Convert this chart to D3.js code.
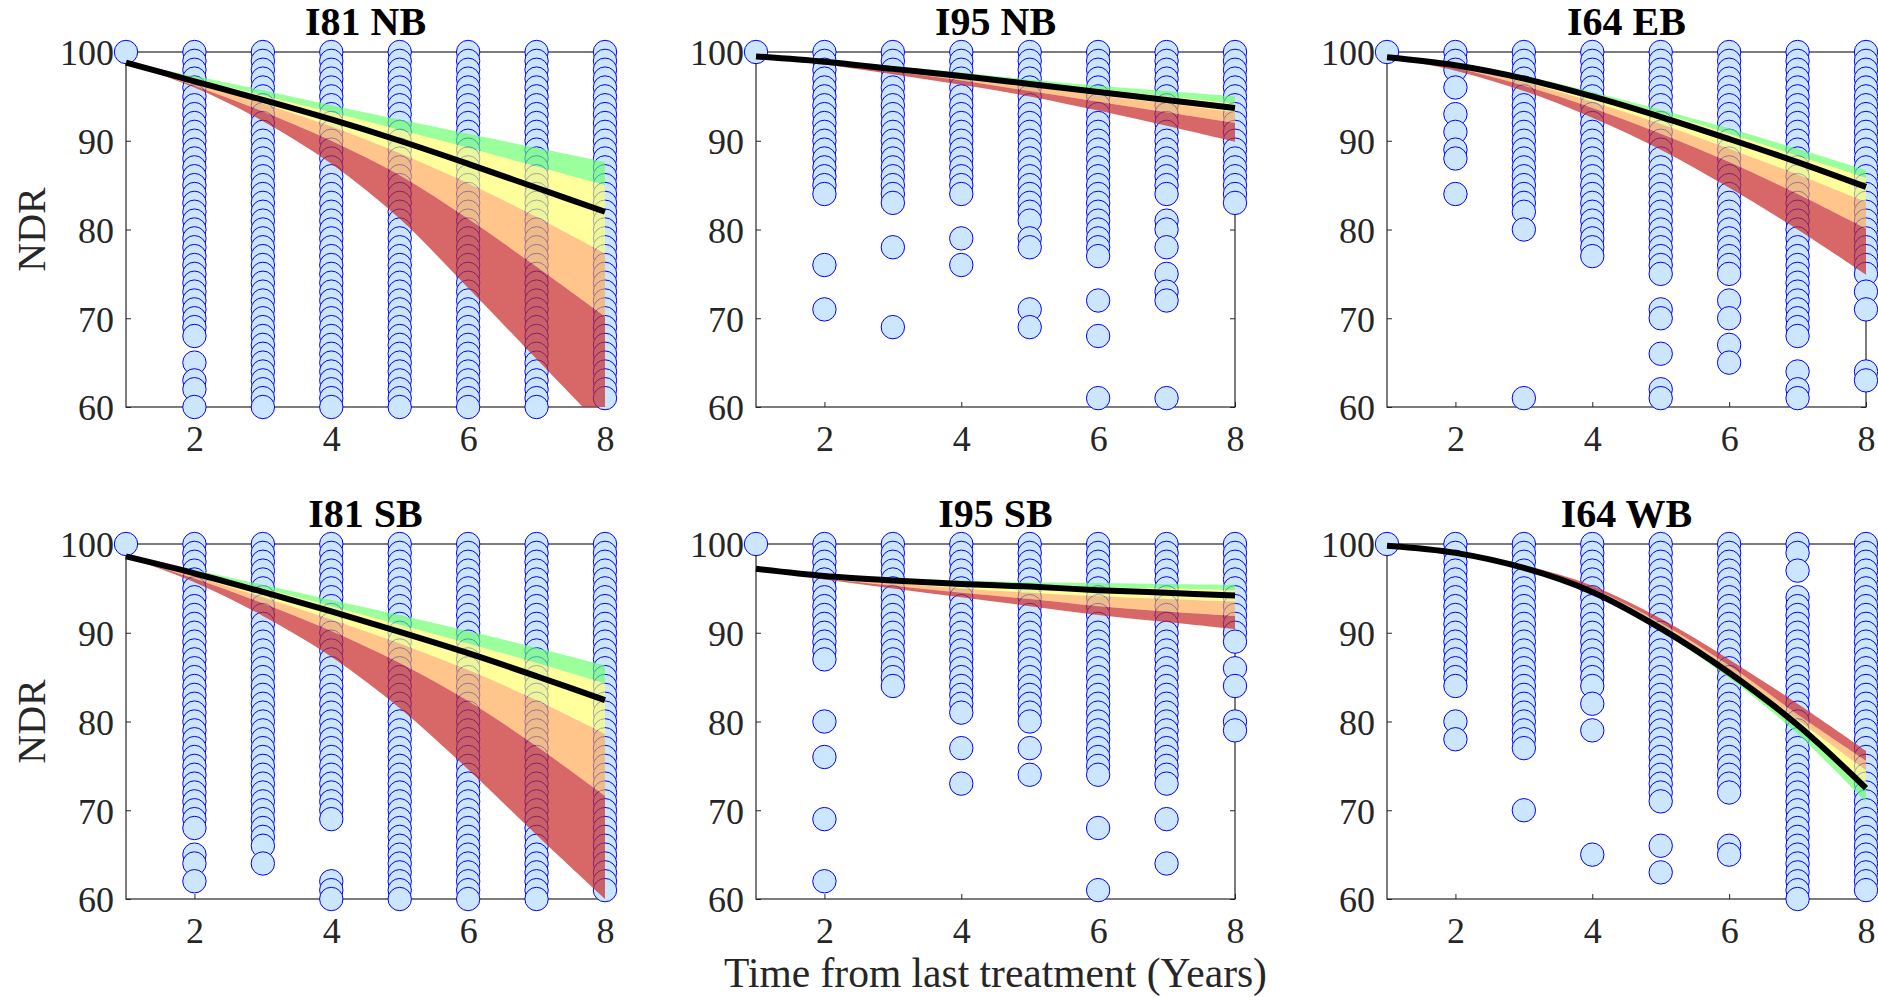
<!DOCTYPE html>
<html>
<head>
<meta charset="utf-8">
<script src="https://cdn.jsdelivr.net/npm/d3@7"></script>
<style>
  body { margin: 0; background: #fff; }
  svg { display: block; font-family: "Liberation Serif", "Times New Roman", serif; }
  .axis text { font-family: "Liberation Serif", "Times New Roman", serif; font-size: 36px; fill: #262626; }
  .axis line { stroke: #262626; }
</style>
</head>
<body>
<div id="chart"></div>
<script>
// ---- data ----
var years = [1, 2, 3, 4, 5, 6, 7, 8];
var routes = ["I81 NB", "I95 NB", "I64 EB", "I81 SB", "I95 SB", "I64 WB"];
var xTicks = [2, 4, 6, 8];
var yTicks = [60, 70, 80, 90, 100];

// observed NDR per year (one list per year)
var ndrI81NB = [
  [100],
  [100,99,98,97,96,95,94,93,92,91,90,89,88,87,86,85,84,83,82,81,80,79,78,77,76,75,74,73,72,71,70,69,68,65,63,62,60],
  [100,99,98,97,96,95,94,93,92,91,90,89,88,87,86,85,84,83,82,81,80,79,78,77,76,75,74,73,72,71,70,69,68,67,66,65,64,63,62,61,60],
  [100,99,98,97,96,95,94,93,92,91,90,89,88,87,86,85,84,83,82,81,80,79,78,77,76,75,74,73,72,71,70,69,68,67,66,65,64,63,62,61,60],
  [100,99,98,97,96,95,94,93,92,91,90,89,88,87,86,85,84,83,82,81,80,79,78,77,76,75,74,73,72,71,70,69,68,67,66,65,64,63,62,61,60],
  [100,99,98,97,96,95,94,93,92,91,90,89,88,87,86,85,84,83,82,81,80,79,78,77,76,75,74,73,72,71,70,69,68,67,66,65,64,63,62,61,60],
  [100,99,98,97,96,95,94,93,92,91,90,89,88,87,86,85,84,83,82,81,80,79,78,77,76,75,74,73,72,71,70,69,68,67,66,65,64,63,62,61,60],
  [100,99,98,97,96,95,94,93,92,91,90,89,88,87,86,85,84,83,82,81,80,79,78,77,76,75,74,73,72,71,70,69,68,67,66,65,64,63,62,61]
];
var ndrI95NB = [
  [100],
  [100,99,98,97,96,95,94,93,92,91,90,89,88,87,86,85,84,76,71],
  [100,99,98,97,96,95,94,93,92,91,90,89,88,87,86,85,84,83,78,69],
  [100,99,98,97,96,95,94,93,92,91,90,89,88,87,86,85,84,79,76],
  [100,99,98,97,96,95,94,93,92,91,90,89,88,87,86,85,84,83,82,81,79,78,71,69],
  [100,99,98,97,96,95,94,93,92,91,90,89,88,87,86,85,84,83,82,81,80,79,78,77,72,68,61],
  [100,99,98,97,96,95,94,93,92,91,90,89,88,87,86,85,84,81,80,78,75,73,72,61],
  [100,99,98,97,96,95,94,93,92,91,90,89,88,87,86,85,84,83]
];
var ndrI64EB = [
  [100],
  [100,99,98,96,93,91,89,88,84],
  [100,99,98,97,96,95,94,93,92,91,90,89,88,87,86,85,84,83,82,80,61],
  [100,99,98,97,96,95,94,93,92,91,90,89,88,87,86,85,84,83,82,81,80,79,78,77],
  [100,99,98,97,96,95,94,93,92,91,90,89,88,87,86,85,84,83,82,81,80,79,78,77,76,75,71,70,66,62,61],
  [100,99,98,97,96,95,94,93,92,91,90,89,88,87,86,85,84,83,82,81,80,79,78,77,76,75,72,70,67,65],
  [100,99,98,97,96,95,94,93,92,91,90,89,88,87,86,85,84,83,82,81,80,79,78,77,76,75,74,73,72,71,70,69,68,64,62,61],
  [100,99,98,97,96,95,94,93,92,91,90,89,88,87,86,85,84,83,82,81,80,79,78,77,76,75,73,71,64,63]
];
var ndrI81SB = [
  [100],
  [100,99,98,97,96,95,94,93,92,91,90,89,88,87,86,85,84,83,82,81,80,79,78,77,76,75,74,73,72,71,70,69,68,65,64,62],
  [100,99,98,97,96,95,94,93,92,91,90,89,88,87,86,85,84,83,82,81,80,79,78,77,76,75,74,73,72,71,70,69,68,67,66,64],
  [100,99,98,97,96,95,94,93,92,91,90,89,88,87,86,85,84,83,82,81,80,79,78,77,76,75,74,73,72,71,70,69,62,61,60],
  [100,99,98,97,96,95,94,93,92,91,90,89,88,87,86,85,84,83,82,81,80,79,78,77,76,75,74,73,72,71,70,69,68,67,66,65,64,63,62,61,60],
  [100,99,98,97,96,95,94,93,92,91,90,89,88,87,86,85,84,83,82,81,80,79,78,77,76,75,74,73,72,71,70,69,68,67,66,65,64,63,62,61,60],
  [100,99,98,97,96,95,94,93,92,91,90,89,88,87,86,85,84,83,82,81,80,79,78,77,76,75,74,73,72,71,70,69,68,67,66,65,64,63,62,61,60],
  [100,99,98,97,96,95,94,93,92,91,90,89,88,87,86,85,84,83,82,81,80,79,78,77,76,75,74,73,72,71,70,69,68,67,66,65,64,63,62,61]
];
var ndrI95SB = [
  [100],
  [100,99,98,97,96,95,94,93,92,91,90,89,88,87,80,76,69,62],
  [100,99,98,97,96,95,94,93,92,91,90,89,88,87,86,85,84],
  [100,99,98,97,96,95,94,93,92,91,90,89,88,87,86,85,84,83,82,81,77,73],
  [100,99,98,97,96,95,94,93,92,91,90,89,88,87,86,85,84,83,82,81,80,77,74],
  [100,99,98,97,96,95,94,93,92,91,90,89,88,87,86,85,84,83,82,81,80,79,78,77,76,75,74,68,61],
  [100,99,98,97,96,95,94,93,92,91,90,89,88,87,86,85,84,83,82,81,80,79,78,77,76,75,74,73,69,64],
  [100,99,98,97,96,95,94,93,92,91,90,89,86,84,80,79]
];
var ndrI64WB = [
  [100],
  [100,99,98,97,96,95,94,93,92,91,90,89,88,87,86,85,84,80,78],
  [100,99,98,97,96,95,94,93,92,91,90,89,88,87,86,85,84,83,82,81,80,79,78,77,70],
  [100,99,98,97,96,95,94,93,92,91,90,89,88,87,86,85,84,82,79,65],
  [100,99,98,97,96,95,94,93,92,91,90,89,88,87,86,85,84,83,82,81,80,79,78,77,76,75,74,73,72,71,66,63],
  [100,99,98,97,96,95,94,93,92,91,90,89,88,87,86,85,84,83,82,81,80,79,78,77,76,75,74,73,72,66,65],
  [100,99,97,94,93,92,91,90,89,88,87,86,85,84,83,82,81,80,79,78,77,76,75,74,73,72,71,70,69,68,67,66,65,64,63,62,61,60],
  [100,99,98,97,96,95,94,93,92,91,90,89,88,87,86,85,84,83,82,81,80,79,78,77,76,75,74,73,72,71,70,69,68,67,66,65,64,63,62,61]
];

// fitted deterioration curve, one value per year
var fitI81NB = [98.8, 96.7, 94.6, 92.4, 90.0, 87.4, 84.7, 82.0];
var fitI95NB = [99.5, 98.9, 98.1, 97.3, 96.4, 95.5, 94.6, 93.7];
var fitI64EB = [99.4, 98.5, 97.0, 95.0, 92.7, 90.2, 87.6, 84.8];
var fitI81SB = [98.6, 96.7, 94.6, 92.4, 90.1, 87.7, 85.1, 82.4];
var fitI95SB = [97.2, 96.4, 95.9, 95.5, 95.2, 94.8, 94.5, 94.2];
var fitI64WB = [99.8, 99.0, 97.3, 94.6, 90.5, 85.5, 79.6, 72.5];

// band edges: green outer, green/yellow, yellow/orange, orange/red, red outer
var bandI81NB = [
  [98.8, 97.3, 95.7, 94.0, 92.4, 90.8, 89.2, 87.6],
  [98.8, 97.0, 95.1, 93.2, 91.2, 89.2, 87.1, 85.0],
  [98.8, 96.6, 94.2, 91.6, 88.6, 85.2, 81.4, 77.3],
  [98.8, 96.2, 93.3, 90.0, 86.1, 81.2, 75.8, 70.2],
  [98.8, 96.0, 92.2, 87.4, 81.2, 73.4, 65.4, 57.4]
];
var bandI95NB = [
  [99.5, 99.1, 98.4, 97.7, 96.9, 96.2, 95.6, 95.0],
  [99.5, 99.0, 98.2, 97.5, 96.6, 95.8, 95.0, 94.2],
  [99.5, 98.9, 98.0, 97.1, 96.1, 95.1, 94.2, 93.2],
  [99.5, 98.8, 97.8, 96.8, 95.6, 94.4, 93.2, 92.0],
  [99.5, 98.6, 97.5, 96.3, 95.0, 93.4, 91.7, 89.9]
];
var bandI64EB = [
  [99.4, 98.6, 97.3, 95.5, 93.5, 91.4, 89.1, 86.7],
  [99.4, 98.55, 97.15, 95.25, 93.1, 90.8, 88.3, 85.8],
  [99.4, 98.3, 96.6, 94.4, 91.9, 89.1, 86.2, 83.1],
  [99.4, 98.2, 96.2, 93.7, 90.8, 87.6, 84.0, 80.1],
  [99.4, 97.9, 95.6, 92.6, 89.0, 84.7, 80.0, 74.9]
];
var bandI81SB = [
  [98.6, 97.1, 95.4, 93.7, 92.0, 90.2, 88.3, 86.3],
  [98.6, 96.9, 95.0, 93.0, 90.9, 88.8, 86.6, 84.3],
  [98.6, 96.4, 94.0, 91.5, 88.8, 85.8, 82.4, 78.6],
  [98.6, 96.1, 93.3, 90.2, 86.6, 82.3, 77.2, 71.6],
  [98.6, 95.7, 91.9, 87.3, 81.5, 74.6, 67.2, 60.0]
];
var bandI95SB = [
  [97.2, 96.6, 96.2, 95.9, 95.7, 95.6, 95.5, 95.4],
  [97.2, 96.5, 96.0, 95.6, 95.3, 95.1, 95.0, 94.8],
  [97.2, 96.3, 95.6, 95.0, 94.5, 94.1, 93.8, 93.5],
  [97.2, 96.1, 95.3, 94.5, 93.8, 93.0, 92.4, 91.9],
  [97.2, 96.0, 95.0, 94.0, 93.0, 92.0, 91.2, 90.4]
];
var bandI64WB = [
  [99.8, 98.9, 97.1, 94.3, 90.1, 84.9, 78.6, 70.9],
  [99.8, 98.95, 97.2, 94.5, 90.4, 85.3, 79.3, 72.6],
  [99.8, 99.0, 97.35, 94.8, 90.8, 85.9, 80.2, 74.5],
  [99.8, 99.05, 97.45, 94.95, 91.1, 86.3, 80.8, 75.6],
  [99.8, 99.1, 97.6, 95.3, 91.6, 87.0, 82.0, 76.7]
];

var panels = [
  {name: routes[0], obs: ndrI81NB, fit: fitI81NB, band: bandI81NB},
  {name: routes[1], obs: ndrI95NB, fit: fitI95NB, band: bandI95NB},
  {name: routes[2], obs: ndrI64EB, fit: fitI64EB, band: bandI64EB},
  {name: routes[3], obs: ndrI81SB, fit: fitI81SB, band: bandI81SB},
  {name: routes[4], obs: ndrI95SB, fit: fitI95SB, band: bandI95SB},
  {name: routes[5], obs: ndrI64WB, fit: fitI64WB, band: bandI64WB}
];

// ---- layout ----
var width = 1878, height = 997,
    colLeft = [126, 756, 1387],
    rowTop = [52, 544],
    pw = 479, ph = 355;

var bandColors = ["#66ff66", "#ffff66", "#ffa64d", "#c82828"],
    bandAlpha = [0.65, 0.65, 0.65, 0.7];

var svg = d3.select("#chart").append("svg")
    .attr("width", width)
    .attr("height", height);

svg.append("rect").attr("width", width).attr("height", height).attr("fill", "#fff");

var x = d3.scaleLinear().domain([1, 8]).range([0, pw]);
var y = d3.scaleLinear().domain([60, 100]).range([ph, 0]);
var fmt = d3.format("d");

panels.forEach(function(p, i) {
  var g = svg.append("g")
      .attr("transform", "translate(" + colLeft[i % 3] + "," + rowTop[Math.floor(i / 3)] + ")");

  // axes box sits under the data (matlab layer bottom)
  g.append("rect")
      .attr("width", pw)
      .attr("height", ph)
      .attr("fill", "none")
      .attr("stroke", "#262626")
      .attr("stroke-width", 1.2);

  g.append("g")
      .attr("class", "axis")
      .attr("transform", "translate(0," + ph + ")")
      .call(d3.axisBottom(x).tickValues(xTicks).tickFormat(fmt).tickSize(-5).tickSizeOuter(0).tickPadding(18))
      .call(function(a) { a.select(".domain").remove(); });

  g.append("g")
      .attr("class", "axis")
      .call(d3.axisLeft(y).tickValues(yTicks).tickFormat(fmt).tickSize(-5).tickSizeOuter(0).tickPadding(12))
      .call(function(a) { a.select(".domain").remove(); })
      .selectAll("text").attr("dy", "0.36em");

  // mirrored ticks on top / right
  g.append("g")
      .attr("class", "axis")
      .call(d3.axisTop(x).tickValues(xTicks).tickSize(-5).tickSizeOuter(0).tickFormat(""))
      .call(function(a) { a.select(".domain").remove(); });
  g.append("g")
      .attr("class", "axis")
      .attr("transform", "translate(" + pw + ",0)")
      .call(d3.axisRight(y).tickValues(yTicks).tickSize(-5).tickSizeOuter(0).tickFormat(""))
      .call(function(a) { a.select(".domain").remove(); });

  // observations
  var pts = [];
  p.obs.forEach(function(col, j) {
    col.forEach(function(v) { pts.push({t: years[j], v: v}); });
  });

  g.append("g")
    .selectAll("circle")
      .data(pts)
    .enter().append("circle")
      .attr("cx", function(d) { return x(d.t); })
      .attr("cy", function(d) { return y(d.v); })
      .attr("r", 11.7)
      .attr("fill", "#cce6ff")
      .attr("stroke", "#0000ff")
      .attr("stroke-width", 1);

  // confidence bands, clipped to the axes
  svg.append("clipPath").attr("id", "clip" + i)
    .append("rect").attr("width", pw).attr("height", ph);

  var area = d3.area()
      .curve(d3.curveCatmullRom)
      .x(function(d) { return x(d.t); })
      .y0(function(d) { return y(d.lo); })
      .y1(function(d) { return y(d.hi); });

  var bands = g.append("g").attr("clip-path", "url(#clip" + i + ")");
  for (var k = 0; k < 4; k++) {
    var rows = years.map(function(t, j) {
      return {t: t, lo: p.band[k][j], hi: p.band[k + 1][j]};
    });
    bands.append("path")
        .attr("d", area(rows))
        .attr("fill", bandColors[k])
        .attr("fill-opacity", bandAlpha[k]);
  }

  // fitted curve
  var line = d3.line()
      .curve(d3.curveCatmullRom)
      .x(function(d, j) { return x(years[j]); })
      .y(function(d) { return y(d); });

  g.append("path")
      .attr("d", line(p.fit))
      .attr("fill", "none")
      .attr("stroke", "#000")
      .attr("stroke-width", 6);

  g.append("text")
      .attr("x", pw / 2)
      .attr("y", -17)
      .attr("text-anchor", "middle")
      .style("font-size", "40px")
      .style("font-weight", "bold")
      .text(p.name);
});

// shared labels
[0, 1].forEach(function(r) {
  svg.append("text")
      .attr("transform", "translate(45," + (rowTop[r] + ph / 2) + ") rotate(-90)")
      .attr("text-anchor", "middle")
      .style("font-size", "40px")
      .style("fill", "#262626")
      .text("NDR");
});

svg.append("text")
    .attr("x", colLeft[1] + pw / 2)
    .attr("y", 987)
    .attr("text-anchor", "middle")
    .style("font-size", "41.5px")
    .style("fill", "#262626")
    .text("Time from last treatment (Years)");
</script>
</body>
</html>
